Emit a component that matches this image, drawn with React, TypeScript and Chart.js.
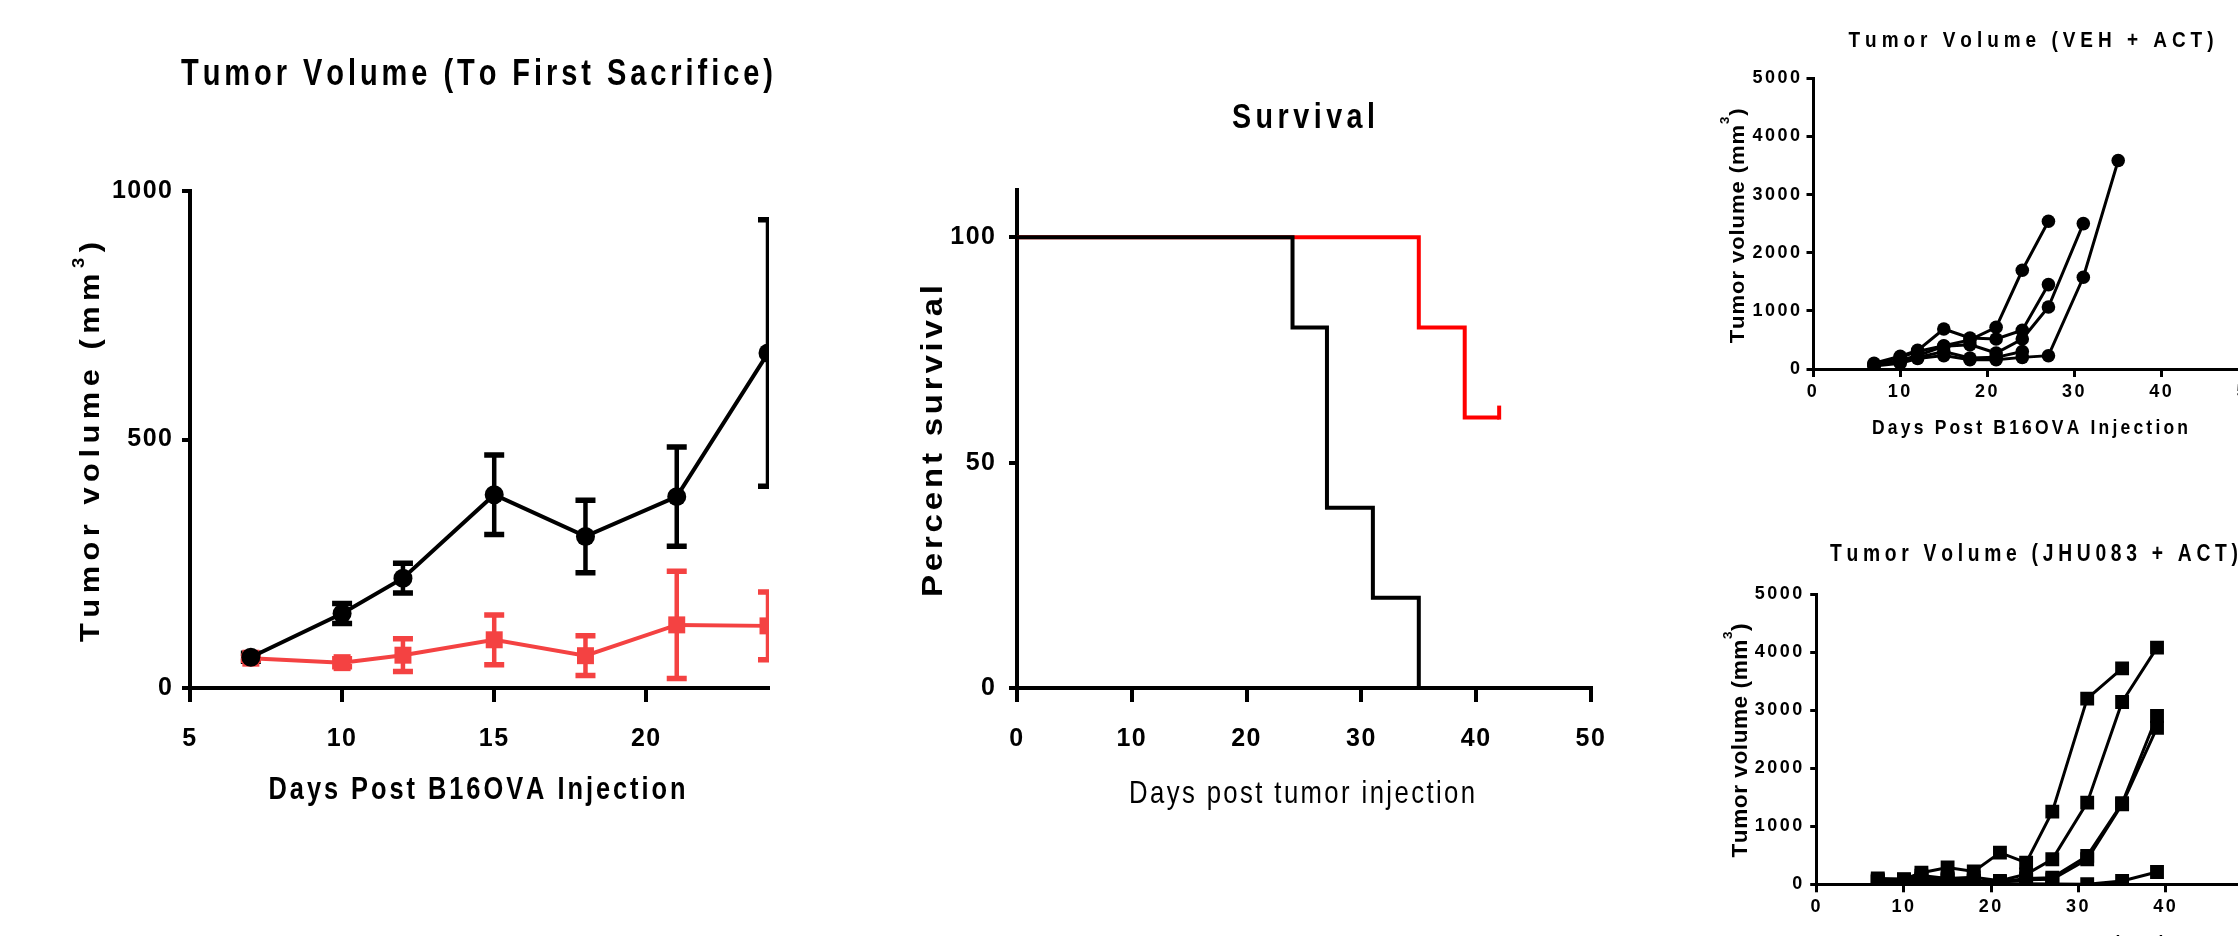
import React, { useEffect, useRef } from "react";
import { Chart, registerables } from "chart.js";
Chart.register(...registerables);

const FONT = "'Liberation Sans', Arial, Helvetica, sans-serif";

// ---------- Panel 1: Tumor Volume (To First Sacrifice) ----------
const P1_DAYS = [7, 10, 12, 15, 18, 21, 24];
const P1_VEH_MEAN = [62, 150, 221, 389, 305, 385, 674];
const P1_VEH_SEM = [8, 20, 30, 80, 73, 100, 268];
const P1_JHU_MEAN = [60, 51, 66, 97, 65, 127, 125];
const P1_JHU_SEM = [4, 8, 33, 50, 40, 108, 68];
const P1_X_TICKS = [5, 10, 15, 20];
const P1_Y_TICKS = [0, 500, 1000];

// ---------- Panel 2: Survival ----------
const SURV_VEH_DAYS = [0, 24, 27, 31, 35];
const SURV_VEH_PCT = [100, 80, 40, 20, 0];
const SURV_JHU_DAYS = [0, 35, 39, 42];
const SURV_JHU_PCT = [100, 80, 60, 60];
const SURV_JHU_CENSOR_DAYS = [42];
const SURV_JHU_CENSOR_PCT = [60];
const P2_X_TICKS = [0, 10, 20, 30, 40, 50];
const P2_Y_TICKS = [0, 50, 100];

// ---------- Panel 3: Tumor Volume (VEH + ACT) ----------
const VEH_DAYS = [7, 10, 12, 15, 18, 21, 24, 27, 31, 35];
const VEH_M1 = [80, 200, 300, 400, 500, 717, 1698, 2542, null, null];
const VEH_M2 = [100, 220, 320, 688, 534, 516, 666, 1452, null, null];
const VEH_M3 = [60, 150, 230, 390, 419, 275, 516, 1067, 2501, null];
const VEH_M4 = [50, 100, 180, 230, 160, 160, 200, 229, 1578, 3586];
const VEH_M5 = [70, 130, 200, 300, 190, 200, 300, null, null, null];

// ---------- Panel 4: Tumor Volume (JHU083 + ACT) ----------
const JHU_DAYS = [7, 10, 12, 15, 18, 21, 24, 27, 31, 35, 39];
const JHU_M1 = [100, 90, 200, 290, 220, 546, 374, 1253, 3201, 3724, null];
const JHU_M2 = [80, 80, 150, 100, 120, 60, 172, 431, 1408, 3144, 4080];
const JHU_M3 = [60, 60, 100, 80, 60, 40, 100, 115, 489, 1397, 2902];
const JHU_M4 = [50, 50, 80, 60, 50, 30, 80, 86, 431, 1380, 2700];
const JHU_M5 = [40, 30, 40, 30, 20, 10, 10, 5, 0, 57, 213];

const SMALL_X_TICKS = [0, 10, 20, 30, 40, 50];
const SMALL_Y_TICKS = [0, 1000, 2000, 3000, 4000, 5000];

// ---------- helpers ----------
const toXY = (days: number[], vals: (number | null)[]) =>
  days.map((d, i) => ({ x: d, y: vals[i] })).filter((p) => p.y !== null);

type Seg = { t: string; scale?: number; rise?: number };
type TextSpec = {
  segs: Seg[];
  cx: number;
  cy: number;
  size: number;
  weight: string;
  length: number;
  rotate?: boolean;
  sx: number;
  sy: number;
};

function drawSpaced(ctx: CanvasRenderingContext2D, it: TextSpec, ox: number, oy: number) {
  ctx.save();
  (ctx as any).letterSpacing = "0px";
  ctx.fillStyle = "#000";
  ctx.textBaseline = "alphabetic";
  ctx.textAlign = "left";
  const chars: { c: string; size: number; rise: number }[] = [];
  it.segs.forEach((s) => {
    for (const c of s.t) chars.push({ c, size: it.size * (s.scale ?? 1), rise: s.rise ?? 0 });
  });
  const widths = chars.map((ch) => {
    ctx.font = `${it.weight} ${ch.size}px ${FONT}`;
    return ctx.measureText(ch.c).width;
  });
  const natural = widths.reduce((a, b) => a + b, 0) * it.sx;
  const gap = chars.length > 1 ? (it.length - natural) / (chars.length - 1) : 0;
  ctx.translate(it.cx - ox, it.cy - oy);
  if (it.rotate) ctx.rotate(-Math.PI / 2);
  ctx.scale(it.sx, it.sy);
  const base = (0.716 * it.size) / 2;
  let pos = -it.length / 2;
  chars.forEach((ch, i) => {
    ctx.font = `${it.weight} ${ch.size}px ${FONT}`;
    ctx.fillText(ch.c, pos / it.sx, base - ch.rise * it.size);
    pos += widths[i] * it.sx + gap;
  });
  ctx.restore();
}

const textPlugin = (items: TextSpec[], ox: number, oy: number) => ({
  id: "texts",
  afterDraw(chart: any) {
    items.forEach((it) => drawSpaced(chart.ctx, it, ox, oy));
  },
});

const spacingPlugin = (px: number) => ({
  id: "tickSpacing",
  beforeDraw(chart: any) {
    chart.ctx.letterSpacing = px + "px";
  },
  afterDraw(chart: any) {
    chart.ctx.letterSpacing = "0px";
  },
});

const errorBarPlugin = {
  id: "errbars",
  beforeDatasetsDraw(chart: any) {
    const { ctx, chartArea } = chart;
    const xs = chart.scales.x;
    const ys = chart.scales.y;
    ctx.save();
    ctx.beginPath();
    ctx.rect(chartArea.left - 30, chartArea.top - 30, chartArea.right - chartArea.left + 31, chartArea.bottom - chartArea.top + 60);
    ctx.clip();
    chart.data.datasets.forEach((ds: any) => {
      if (!ds.errorBars) return;
      ctx.strokeStyle = ds.borderColor;
      ds.data.forEach((p: any, i: number) => {
        const e = ds.errorBars[i];
        const px = xs.getPixelForValue(p.x);
        const yt = ys.getPixelForValue(p.y + e);
        const yb = ys.getPixelForValue(p.y - e);
        ctx.lineWidth = 4.5;
        ctx.beginPath();
        ctx.moveTo(px, yt);
        ctx.lineTo(px, yb);
        ctx.stroke();
        ctx.lineWidth = 5.5;
        ctx.beginPath();
        ctx.moveTo(px - 10, yt);
        ctx.lineTo(px + 10, yt);
        ctx.moveTo(px - 10, yb);
        ctx.lineTo(px + 10, yb);
        ctx.stroke();
      });
    });
    ctx.restore();
  },
};

const censorPlugin = {
  id: "censor",
  afterDatasetsDraw(chart: any) {
    const { ctx } = chart;
    const xs = chart.scales.x;
    const ys = chart.scales.y;
    ctx.save();
    ctx.strokeStyle = "#ff0000";
    ctx.lineWidth = 4;
    SURV_JHU_CENSOR_DAYS.forEach((d, i) => {
      const px = xs.getPixelForValue(d);
      const py = ys.getPixelForValue(SURV_JHU_CENSOR_PCT[i]);
      ctx.beginPath();
      ctx.moveTo(px, py + 2);
      ctx.lineTo(px, py - 12);
      ctx.stroke();
    });
    ctx.restore();
  },
};

type AxisSpec = {
  min: number;
  max: number;
  ticks: number[];
  tickLength: number;
  width: number;
  fontSize: number;
  padding: number;
};

function axis(a: AxisSpec, isX: boolean, fit: number) {
  return {
    type: "linear",
    min: a.min,
    max: a.max,
    afterBuildTicks: (s: any) => {
      s.ticks = a.ticks.map((v) => ({ value: v }));
    },
    afterFit: (s: any) => {
      if (isX) s.height = fit;
      else s.width = fit;
    },
    grid: {
      display: true,
      drawOnChartArea: false,
      drawTicks: true,
      tickLength: a.tickLength,
      tickWidth: a.width,
      tickColor: "#000",
      color: "#000",
      lineWidth: a.width,
    },
    border: { display: true, width: a.width, color: "#000" },
    ticks: {
      color: "#000",
      font: { family: FONT, size: a.fontSize, weight: "bold" },
      padding: a.padding,
      autoSkip: false,
      maxRotation: 0,
      minRotation: 0,
      callback: (v: any) => String(v),
    },
  };
}

type Rect = { x: number; y: number; w: number; h: number };

function buildOptions(c: {
  canvas: Rect;
  plot: { left: number; top: number; right: number; bottom: number };
  yW: number;
  xH: number;
  x: AxisSpec;
  y: AxisSpec;
}) {
  const padding = {
    left: c.plot.left - c.canvas.x - c.yW,
    top: c.plot.top - c.canvas.y,
    right: c.canvas.x + c.canvas.w - c.plot.right,
    bottom: c.canvas.y + c.canvas.h - c.plot.bottom - c.xH,
  };
  return {
    responsive: false,
    maintainAspectRatio: false,
    animation: false,
    devicePixelRatio: 1,
    events: [],
    layout: { padding },
    plugins: { legend: { display: false }, tooltip: { enabled: false }, title: { display: false } },
    scales: { x: axis(c.x, true, c.xH), y: axis(c.y, false, c.yW) },
  };
}

const yTitleSegs = (rise: number): Seg[] => [
  { t: "Tumor volume (mm" },
  { t: "3", scale: 0.6, rise },
  { t: ")" },
];

// ---------- panel configs ----------
const R1: Rect = { x: 0, y: 0, w: 800, h: 936 };
const R2: Rect = { x: 800, y: 0, w: 850, h: 936 };
const R3: Rect = { x: 1650, y: 0, w: 680, h: 470 };
const R4: Rect = { x: 1650, y: 470, w: 680, h: 530 };

function config1() {
  const red = "#f44242";
  return {
    type: "line",
    data: {
      datasets: [
        {
          data: toXY(P1_DAYS, P1_VEH_MEAN),
          errorBars: P1_VEH_SEM,
          borderColor: "#000",
          backgroundColor: "#000",
          borderWidth: 4,
          pointStyle: "circle",
          pointRadius: 9.5,
          pointBackgroundColor: "#000",
          pointBorderColor: "#000",
          pointBorderWidth: 0,
          tension: 0,
          clip: { left: 30, top: 30, right: 1, bottom: 30 },
        },
        {
          data: toXY(P1_DAYS, P1_JHU_MEAN),
          errorBars: P1_JHU_SEM,
          borderColor: red,
          backgroundColor: red,
          borderWidth: 4,
          pointStyle: "rect",
          pointRadius: 12,
          pointBackgroundColor: red,
          pointBorderColor: red,
          pointBorderWidth: 0,
          tension: 0,
          clip: { left: 30, top: 30, right: 1, bottom: 30 },
        },
      ],
    },
    options: buildOptions({
      canvas: R1,
      plot: { left: 190, top: 191, right: 768, bottom: 688 },
      yW: 100,
      xH: 80,
      x: { min: 5, max: 24, ticks: P1_X_TICKS, tickLength: 14, width: 4, fontSize: 25, padding: 22 },
      y: { min: 0, max: 1000, ticks: P1_Y_TICKS, tickLength: 8, width: 4, fontSize: 25, padding: 8.5 },
    }),
    plugins: [
      spacingPlugin(1.5),
      errorBarPlugin,
      textPlugin(
        [
          { segs: [{ t: "Tumor Volume (To First Sacrifice)" }], cx: 477, cy: 72, size: 29, weight: "bold", length: 592, sx: 1, sy: 1.25 },
          { segs: [{ t: "Days Post B16OVA Injection" }], cx: 477, cy: 788, size: 25.4, weight: "bold", length: 417, sx: 1, sy: 1.25 },
          { segs: yTitleSegs(0.54), cx: 89, cy: 442, size: 28, weight: "bold", length: 400, rotate: true, sx: 1.1, sy: 1 },
        ],
        R1.x,
        R1.y
      ),
    ],
  };
}

function config2() {
  return {
    type: "line",
    data: {
      datasets: [
        {
          data: toXY(SURV_VEH_DAYS, SURV_VEH_PCT),
          borderColor: "#000",
          borderWidth: 4,
          pointRadius: 0,
          stepped: "before",
          tension: 0,
        },
        {
          data: toXY(SURV_JHU_DAYS, SURV_JHU_PCT),
          borderColor: "#ff0000",
          borderWidth: 4,
          pointRadius: 0,
          stepped: "before",
          tension: 0,
        },
      ],
    },
    options: buildOptions({
      canvas: R2,
      plot: { left: 1017, top: 190, right: 1591, bottom: 688 },
      yW: 100,
      xH: 80,
      x: { min: 0, max: 50, ticks: P2_X_TICKS, tickLength: 14, width: 4, fontSize: 25, padding: 22 },
      y: { min: 0, max: 110.5, ticks: P2_Y_TICKS, tickLength: 8, width: 4, fontSize: 25, padding: 12.5 },
    }),
    plugins: [
      spacingPlugin(1.5),
      censorPlugin,
      textPlugin(
        [
          { segs: [{ t: "Survival" }], cx: 1303.5, cy: 115.5, size: 28.7, weight: "bold", length: 143, sx: 1, sy: 1.25 },
          { segs: [{ t: "Days post tumor injection" }], cx: 1302, cy: 791.5, size: 25.7, weight: "normal", length: 346, sx: 1, sy: 1.25 },
          { segs: [{ t: "Percent survival" }], cx: 931, cy: 441, size: 30, weight: "bold", length: 312, rotate: true, sx: 1.1, sy: 1 },
        ],
        R2.x,
        R2.y
      ),
    ],
  };
}

function smallDataset(days: number[], vals: (number | null)[], style: string, radius: number) {
  return {
    data: toXY(days, vals),
    borderColor: "#000",
    backgroundColor: "#000",
    borderWidth: 3,
    pointStyle: style,
    pointRadius: radius,
    pointBackgroundColor: "#000",
    pointBorderColor: "#000",
    pointBorderWidth: 0,
    tension: 0,
  };
}

function config3() {
  return {
    type: "line",
    data: {
      datasets: [VEH_M1, VEH_M2, VEH_M3, VEH_M4, VEH_M5].map((m) => smallDataset(VEH_DAYS, m, "circle", 6.8)),
    },
    options: buildOptions({
      canvas: R3,
      plot: { left: 1813, top: 78.3, right: 2249, bottom: 369 },
      yW: 100,
      xH: 50,
      x: { min: 0, max: 50, ticks: SMALL_X_TICKS, tickLength: 8, width: 3, fontSize: 18, padding: 4 },
      y: { min: 0, max: 5000, ticks: SMALL_Y_TICKS, tickLength: 6.5, width: 3, fontSize: 18, padding: 4 },
    }),
    plugins: [
      spacingPlugin(2.5),
      textPlugin(
        [
          { segs: [{ t: "Tumor Volume (VEH + ACT)" }], cx: 2031, cy: 38.8, size: 19, weight: "bold", length: 365, sx: 1, sy: 1.2 },
          { segs: [{ t: "Days Post B16OVA Injection" }], cx: 2030, cy: 426.7, size: 17.5, weight: "bold", length: 316, sx: 1, sy: 1.2 },
          { segs: yTitleSegs(0.7), cx: 1736, cy: 225.8, size: 21, weight: "bold", length: 235, rotate: true, sx: 1.05, sy: 1 },
        ],
        R3.x,
        R3.y
      ),
    ],
  };
}

function config4() {
  return {
    type: "line",
    data: {
      datasets: [JHU_M1, JHU_M2, JHU_M3, JHU_M4, JHU_M5].map((m) => smallDataset(JHU_DAYS, m, "rect", 9.8)),
    },
    options: buildOptions({
      canvas: R4,
      plot: { left: 1816.7, top: 594.3, right: 2253, bottom: 884.3 },
      yW: 100,
      xH: 50,
      x: { min: 0, max: 50, ticks: SMALL_X_TICKS, tickLength: 8, width: 3, fontSize: 18, padding: 4 },
      y: { min: 0, max: 5000, ticks: SMALL_Y_TICKS, tickLength: 6.5, width: 3, fontSize: 18, padding: 5.5 },
    }),
    plugins: [
      spacingPlugin(2.5),
      textPlugin(
        [
          { segs: [{ t: "Tumor Volume (JHU083 + ACT)" }], cx: 2034, cy: 552.8, size: 19.3, weight: "bold", length: 408, sx: 1, sy: 1.2 },
          { segs: [{ t: "Days Post B16OVA Injection" }], cx: 2033, cy: 942.5, size: 17.5, weight: "bold", length: 316, sx: 1, sy: 1.2 },
          { segs: yTitleSegs(0.7), cx: 1739, cy: 740.5, size: 21.5, weight: "bold", length: 234, rotate: true, sx: 1.05, sy: 1 },
        ],
        R4.x,
        R4.y
      ),
    ],
  };
}

function Panel({ rect, make }: { rect: Rect; make: () => any }) {
  const ref = useRef<HTMLCanvasElement>(null);
  useEffect(() => {
    const chart = new Chart(ref.current as HTMLCanvasElement, make());
    return () => chart.destroy();
  }, []);
  return (
    <canvas
      ref={ref}
      width={rect.w}
      height={rect.h}
      style={{ position: "absolute", left: rect.x, top: rect.y, width: rect.w, height: rect.h, display: "block" }}
    />
  );
}

export default function App() {
  useEffect(() => {
    document.body.style.margin = "0";
  }, []);
  return (
    <div
      style={{
        position: "fixed",
        left: 0,
        top: 0,
        width: 2238,
        height: 936,
        overflow: "hidden",
        background: "#fff",
      }}
    >
      <Panel rect={R1} make={config1} />
      <Panel rect={R2} make={config2} />
      <Panel rect={R3} make={config3} />
      <Panel rect={R4} make={config4} />
    </div>
  );
}
